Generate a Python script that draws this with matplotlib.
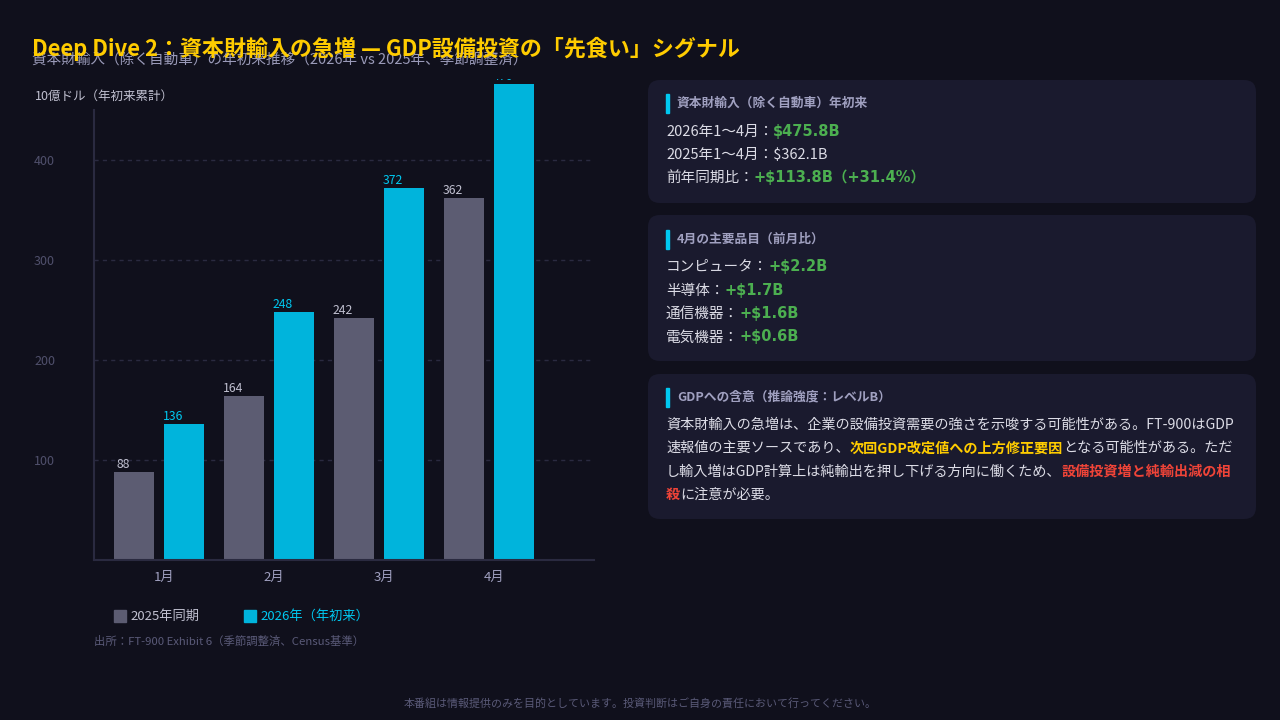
import matplotlib
matplotlib.use('Agg')
import matplotlib.pyplot as plt
import matplotlib.transforms as mtransforms
from matplotlib.patches import FancyBboxPatch, Rectangle

plt.rcParams['font.family'] = ['Noto Sans CJK JP', 'DejaVu Sans']
NUM_FONT = ['DejaVu Sans', 'Noto Sans CJK JP']

# Data
months = ['1月', '2月', '3月', '4月']
ytd_2025 = [88, 164, 242, 362]
ytd_2026 = [136, 248, 372, 476]
yticks = [100, 200, 300, 400]

# Colours
BG = '#10101c'
CARD = '#1a1a2e'
GRAY_BAR = '#5c5c72'
CYAN = '#00b4dc'
GOLD = '#ffcc00'
GREEN = '#4caf50'
RED = '#f04438'
TEXT = '#dcdce6'
MUTED = '#a0a0c0'
DIM = '#50506c'

fig = plt.figure(figsize=(12.8, 7.2), dpi=100, facecolor=BG)
W, H = 1280, 720
# pixel coords, y measured from the top
PX = mtransforms.Affine2D().scale(1 / W, -1 / H).translate(0, 1) + fig.transFigure

# ---- chart ----
ax = fig.add_axes([94 / W, (H - 560) / H, 500 / W, 450 / H])
ax.set_facecolor(BG)
ax.set_xlim(-0.636, 3.909)
ax.set_ylim(0, 450)
x = range(len(months))
off_g, off_c, bw = -0.2727, 0.1818, 0.3636
bars_g = ax.bar([i + off_g for i in x], ytd_2025, width=bw, color=GRAY_BAR, clip_on=False)
bars_c = ax.bar([i + off_c for i in x], ytd_2026, width=bw, color=CYAN, clip_on=False)

# the top of the chart area cuts off the tallest label
clip = mtransforms.Bbox([[0, 0], [W, H - 79.3]])
for b, v in zip(bars_g, ytd_2025):
    ax.text(b.get_x() + b.get_width() / 2 - 0.1, v + 4, str(v), color='#c0c0d0',
            fontsize=8.8, ha='center', va='baseline')
for b, v in zip(bars_c, ytd_2026):
    t = ax.text(b.get_x() + b.get_width() / 2 - 0.1, v + 4, str(v), color='#00c8f0',
                fontsize=8.8, ha='center', va='baseline', clip_on=True)
    t.set_clip_box(clip)

ax.set_yticks(yticks)
ax.set_yticklabels([str(v) for v in yticks])
ax.set_xticks(list(x))
ax.set_xticklabels(months)
ax.tick_params(axis='y', length=0, colors=DIM, labelsize=9, pad=43.2)
for lbl in ax.get_yticklabels():
    lbl.set_horizontalalignment('left')
ax.tick_params(axis='x', length=0, colors=MUTED, labelsize=9.5, pad=8)
ax.grid(axis='y', color='#2a2a40', linestyle=(0, (3, 3)), linewidth=1)
ax.set_axisbelow(True)
for s in ['top', 'right']:
    ax.spines[s].set_visible(False)
for s in ['left', 'bottom']:
    ax.spines[s].set_color('#2a2a40')
    ax.spines[s].set_linewidth(1.5)

# ---- titles ----
fig.text(32, 60, '資本財輸入（除く自動車）の年初来推移（2026年 vs 2025年、季節調整済）',
         transform=PX, color='#9a9ab8', fontsize=10.5, va='center')
fig.text(32, 49, 'Deep Dive 2：資本財輸入の急増 — GDP設備投資の「先食い」シグナル',
         transform=PX, color=GOLD, fontsize=15.8, fontweight='bold', va='center')
fig.text(35, 96, '10億ドル（年初来累計）', transform=PX, color='#c0c0d0', fontsize=9, va='center')

# legend
fig.patches.append(Rectangle((114, 610), 12, 12, transform=PX, color=GRAY_BAR))
fig.text(130, 616, '2025年同期', transform=PX, color='#c0c0d0', fontsize=9.5, va='center')
fig.patches.append(Rectangle((244, 610), 12, 12, transform=PX, color=CYAN))
fig.text(260, 616, '2026年（年初来）', transform=PX, color='#00c8f0', fontsize=9.5, va='center')

fig.text(94, 641, '出所：FT-900 Exhibit 6（季節調整済、Census基準）', transform=PX,
         color='#5a5a78', fontsize=8.2, va='center')
fig.text(640, 704, '本番組は情報提供のみを目的としています。投資判断はご自身の責任において行ってください。',
         transform=PX, color='#5a5a78', fontsize=7.9, ha='center', va='center')

# ---- cards ----
renderer = fig.canvas.get_renderer()


def rich_line(x0, y, segments, size=10.5):
    xc = x0
    for seg in segments:
        text, color, bold = seg[:3]
        kw = {'family': seg[3]} if len(seg) > 3 else {}
        t = fig.text(xc, y, text, transform=PX, color=color, fontsize=size,
                     fontweight='bold' if bold else 'normal', va='baseline', **kw)
        xc += t.get_window_extent(renderer).width


def card(y0, y1, header, hy):
    fig.patches.append(FancyBboxPatch((648, y0), 608, y1 - y0, transform=PX,
                                      boxstyle='round,pad=0,rounding_size=12',
                                      facecolor=CARD, edgecolor='none'))
    fig.patches.append(Rectangle((666, hy - 9), 3, 19, transform=PX, color='#00c8f0'))
    fig.text(677, hy, header, transform=PX, color=MUTED, fontsize=9.2,
             fontweight='bold', va='center')


card(80, 203, '資本財輸入（除く自動車）年初来', 103)
rich_line(666, 136, [('2026年1〜4月：', TEXT, False), ('$475.8B', GREEN, True, NUM_FONT)])
rich_line(666, 159, [('2025年1〜4月：$362.1B', TEXT, False)])
rich_line(666, 182, [('前年同期比：', TEXT, False), ('+$113.8B（+31.4%）', GREEN, True, NUM_FONT)])

card(215, 361, '4月の主要品目（前月比）', 239)
items = ['コンピュータ', '半導体', '通信機器', '電気機器']
item_vals = ['+$2.2B', '+$1.7B', '+$1.6B', '+$0.6B']
for i, (name, val) in enumerate(zip(items, item_vals)):
    rich_line(666, 271 + i * 23.5, [(name + '：', TEXT, False), (val, GREEN, True, NUM_FONT)])

card(374, 519, 'GDPへの含意（推論強度：レベルB）', 397)
para = [
    [('資本財輸入の急増は、企業の設備投資需要の強さを示唆する可能性がある。FT-900はGDP', TEXT, False)],
    [('速報値の主要ソースであり、', TEXT, False), ('次回GDP改定値への上方修正要因', GOLD, True),
     ('となる可能性がある。ただ', TEXT, False)],
    [('し輸入増はGDP計算上は純輸出を押し下げる方向に働くため、', TEXT, False),
     ('設備投資増と純輸出減の相', RED, True)],
    [('殺', RED, True), ('に注意が必要。', TEXT, False)],
]
for i, segs in enumerate(para):
    rich_line(666, 429 + i * 23.3, segs, size=10.2)

fig.savefig('out.png', dpi=100, facecolor=BG)
